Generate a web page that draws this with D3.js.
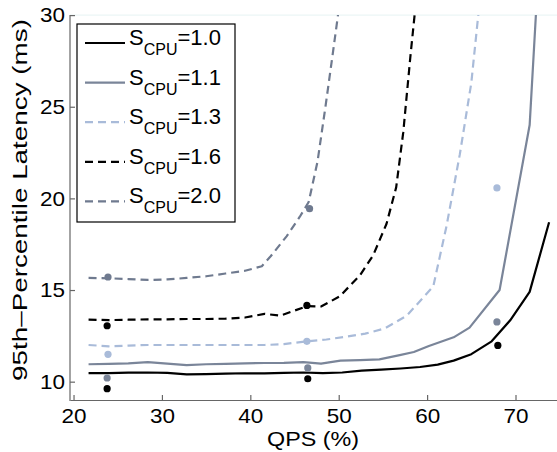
<!DOCTYPE html>
<html>
<head>
<meta charset="utf-8">
<script src="https://cdn.jsdelivr.net/npm/d3@7"></script>
<style>
  html, body { margin: 0; padding: 0; background: #fff; }
  svg { display: block; font-family: "Liberation Sans", Arial, Helvetica, sans-serif; }
</style>
</head>
<body>
<svg id="chart" width="557" height="452"></svg>
<script>
// Measured 95th-percentile latency vs. load for several CPU speed-up factors.
const seriesLabels = ["1.0", "1.1", "1.3", "1.6", "2.0"];
const seriesColors = ["#000000", "#7a8599", "#a9bbd9", "#000000", "#6f7a8f"];
const seriesDashed = [false, false, true, true, true];

// QPS (%) and latency (ms) of each modelled curve
const qps10 = [21.7, 24.0, 26.2, 28.4, 30.6, 32.8, 35.0, 37.2, 39.4, 41.6, 43.8, 46.0, 48.2, 50.4, 52.6, 54.8, 57.0, 59.2, 61.2, 63.0, 65.0, 67.3, 69.4, 71.6, 73.8];
const lat10 = [10.47, 10.47, 10.49, 10.5, 10.48, 10.4, 10.41, 10.44, 10.46, 10.45, 10.48, 10.5, 10.47, 10.5, 10.6, 10.66, 10.72, 10.8, 10.93, 11.15, 11.5, 12.2, 13.35, 14.9, 18.7];

const qps11 = [21.7, 24.0, 26.2, 28.4, 30.6, 32.8, 35.0, 37.2, 39.4, 41.6, 43.8, 46.0, 48.0, 50.2, 52.4, 54.6, 56.9, 58.5, 60.2, 63.0, 64.8, 68.2, 71.6, 72.6];
const lat11 = [10.95, 10.97, 11.0, 11.07, 10.98, 10.9, 10.95, 10.97, 11.0, 11.02, 11.03, 11.07, 10.98, 11.15, 11.18, 11.22, 11.45, 11.62, 11.95, 12.42, 12.95, 15.0, 24.0, 32.5];

const qps13 = [21.7, 24.0, 26.2, 28.4, 30.6, 32.8, 35.0, 37.2, 39.4, 41.6, 43.8, 46.4, 48.6, 50.8, 53.0, 55.2, 57.7, 60.7, 62.2, 63.7, 65.0, 66.0];
const lat13 = [12.0, 11.93, 11.97, 12.0, 12.0, 12.0, 12.0, 12.0, 12.0, 12.0, 12.05, 12.2, 12.3, 12.45, 12.62, 12.9, 13.6, 15.2, 18.5, 22.4, 26.3, 31.0];

const qps16 = [21.7, 24.0, 26.2, 28.4, 30.6, 32.8, 35.0, 37.2, 39.4, 41.6, 43.4, 46.4, 48.0, 50.1, 52.4, 53.9, 55.4, 56.5, 57.3, 58.1, 58.9];
const lat16 = [13.38, 13.36, 13.38, 13.4, 13.4, 13.42, 13.42, 13.44, 13.5, 13.7, 13.6, 14.12, 14.1, 14.65, 15.8, 16.9, 18.6, 20.6, 23.6, 27.7, 31.5];

const qps20 = [21.7, 24.0, 26.2, 28.4, 30.6, 32.8, 35.0, 37.2, 39.4, 41.3, 42.3, 44.1, 45.6, 46.6, 47.6, 48.5, 49.3, 50.2];
const lat20 = [15.66, 15.64, 15.6, 15.55, 15.58, 15.66, 15.75, 15.9, 16.05, 16.3, 16.84, 17.93, 19.0, 19.8, 22.0, 25.0, 27.8, 31.0];

// Measured points (three load levels per speed-up factor)
const measuredQps = [
  [23.8, 46.5, 68.0],
  [23.8, 46.5, 67.9],
  [23.9, 46.4, 67.9],
  [23.8, 46.4],
  [23.9, 46.7]
];
const measuredLat = [
  [9.62, 10.16, 11.98],
  [10.2, 10.75, 13.26],
  [11.49, 12.2, 20.57],
  [13.05, 14.16],
  [15.71, 19.44]
];

const xTicks = [20, 30, 40, 50, 60, 70];
const yTicks = [10, 15, 20, 25, 30];

const curveQps = [qps10, qps11, qps13, qps16, qps20];
const curveLat = [lat10, lat11, lat13, lat16, lat20];

const svg = d3.select("#chart");
const x = d3.scaleLinear().domain([19.6, 75]).range([70, 559.7]);
const y = d3.scaleLinear().domain([9, 30]).range([400, 15.1]);

svg.append("defs").append("clipPath").attr("id", "plot-clip")
  .append("rect")
  .attr("x", x.range()[0]).attr("y", y.range()[1])
  .attr("width", x.range()[1] - x.range()[0])
  .attr("height", y.range()[0] - y.range()[1]);

// faint top frame line
svg.append("line")
  .attr("x1", x.range()[0]).attr("x2", x.range()[1])
  .attr("y1", y(30)).attr("y2", y(30))
  .attr("stroke", "#e6f3f3").attr("stroke-width", 1);

// axes
const xAxis = svg.append("g")
  .attr("transform", `translate(0,${y.range()[0]})`)
  .call(d3.axisBottom(x).tickValues(xTicks).tickSizeInner(-5).tickSizeOuter(0).tickPadding(8));
const yAxis = svg.append("g")
  .attr("transform", `translate(${x.range()[0]},0)`)
  .call(d3.axisLeft(y).tickValues(yTicks).tickSizeInner(-5).tickSizeOuter(0).tickPadding(5));

[xAxis, yAxis].forEach(g => {
  g.select(".domain").attr("stroke", "#666").attr("stroke-width", 1.2);
  g.selectAll(".tick line").attr("stroke", "#666").attr("stroke-width", 1.2);
  g.selectAll(".tick text").attr("fill", "#000").attr("font-size", 21)
    .attr("textLength", 25).attr("lengthAdjust", "spacingAndGlyphs")
    .attr("font-family", "'Liberation Sans', Arial, sans-serif");
});
// left spine spans the whole plot height
yAxis.select(".domain").attr("d", `M0,${y.range()[0] + 1}V${y.range()[1]}`);

svg.append("text")
  .attr("x", 313).attr("y", 446)
  .attr("text-anchor", "middle").attr("font-size", 21)
  .attr("textLength", 92).attr("lengthAdjust", "spacingAndGlyphs")
  .text("QPS (%)");

svg.append("text")
  .attr("transform", `translate(27,200) rotate(-90)`)
  .attr("text-anchor", "middle").attr("font-size", 21)
  .attr("textLength", 362).attr("lengthAdjust", "spacingAndGlyphs")
  .text("95th\u2013Percentile Latency (ms)");

// curves
const plot = svg.append("g").attr("clip-path", "url(#plot-clip)");
const line = d3.line().x(d => x(d[0])).y(d => y(d[1]));

curveQps.forEach((qs, i) => {
  const pts = qs.map((q, j) => [q, curveLat[i][j]]);
  plot.append("path")
    .datum(pts)
    .attr("d", line)
    .attr("fill", "none")
    .attr("stroke", seriesColors[i])
    .attr("stroke-width", 2.2)
    .attr("stroke-linejoin", "round")
    .attr("stroke-dasharray", seriesDashed[i] ? "8,5" : null);
});

// measured points
measuredQps.forEach((qs, i) => {
  plot.selectAll(null)
    .data(qs.map((q, j) => [q, measuredLat[i][j]]))
    .enter().append("circle")
    .attr("cx", d => x(d[0])).attr("cy", d => y(d[1]))
    .attr("r", 3.6)
    .attr("fill", seriesColors[i]);
});

// legend
const legend = svg.append("g");
legend.append("rect")
  .attr("x", 77).attr("y", 24).attr("width", 158).attr("height", 198)
  .attr("fill", "#fff").attr("stroke", "#000").attr("stroke-width", 1.2);

seriesLabels.forEach((lab, i) => {
  const by = 45 + i * 39.6;
  legend.append("line")
    .attr("x1", 85).attr("x2", 125)
    .attr("y1", by - 2).attr("y2", by - 2)
    .attr("stroke", seriesColors[i]).attr("stroke-width", 2.2)
    .attr("stroke-dasharray", seriesDashed[i] ? "8,5" : null);
  const t = legend.append("text").attr("x", 129).attr("y", by).attr("font-size", 22);
  t.append("tspan").text("S");
  t.append("tspan").attr("font-size", 16).attr("dy", 10).text("CPU");
  t.append("tspan").attr("dy", -10).text("=" + lab);
});
</script>
</body>
</html>
